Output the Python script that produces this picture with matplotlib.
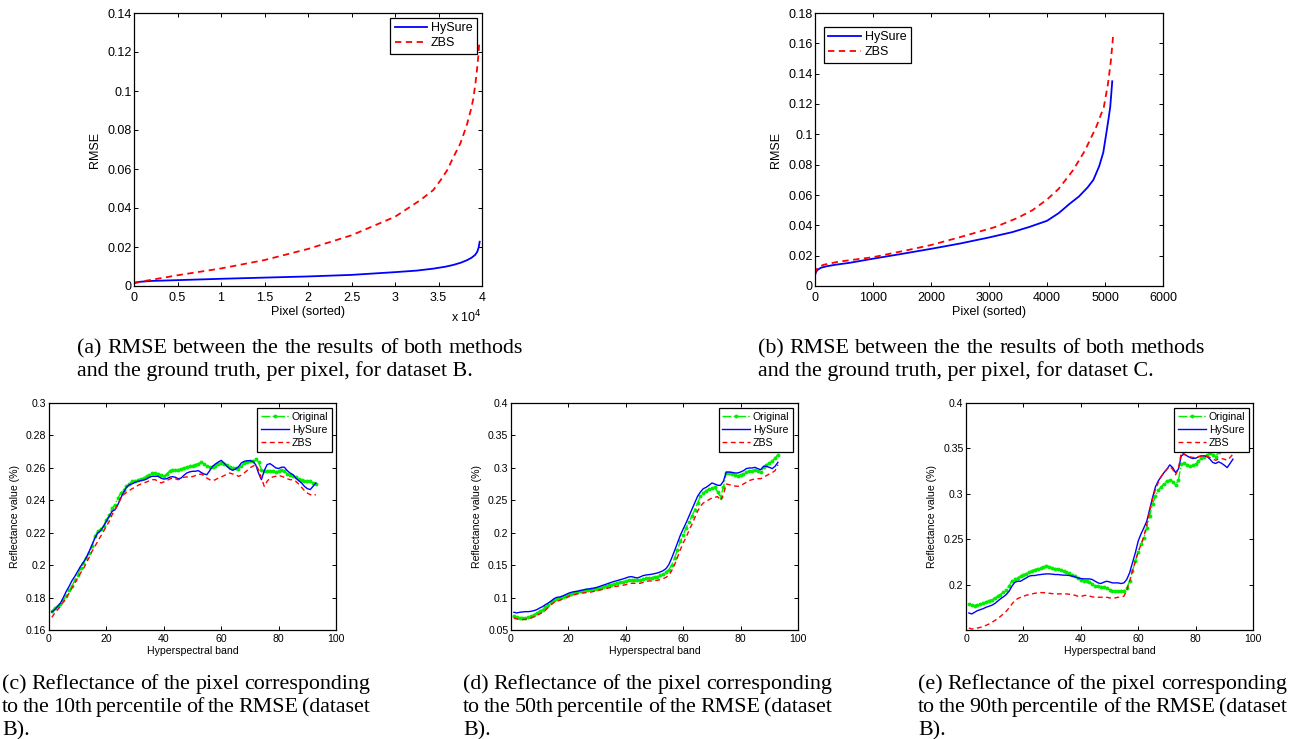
import numpy as np
import matplotlib
matplotlib.use('Agg')
import matplotlib.pyplot as plt
from matplotlib.ticker import FuncFormatter, FixedLocator

# ---------------- data ----------------
# (a) dataset B, sorted per-pixel RMSE
a_hysure_x = [0, 500, 2000, 5000, 10000, 15000, 20000, 25000, 30000, 32500, 34400, 35800,
              36700, 37600, 38300, 38800, 39200, 39450, 39620, 39730]
a_hysure_y = [0.0016, 0.0021, 0.0026, 0.0030, 0.0037, 0.0043, 0.0049, 0.0057, 0.0071, 0.0079,
              0.0089, 0.0099, 0.0108, 0.0120, 0.0133, 0.0145, 0.0159, 0.0175, 0.0198, 0.0227]
a_zbs_x = [0, 1000, 5000, 10000, 15000, 20000, 25000, 30000, 32900, 34400, 35200, 36000, 36700,
           37500, 37900, 38300, 38700, 39000, 39250, 39450, 39600, 39700]
a_zbs_y = [0.0014, 0.0024, 0.0055, 0.0090, 0.0133, 0.0190, 0.0260, 0.0355, 0.0440, 0.0492,
           0.0540, 0.0594, 0.0660, 0.0730, 0.0780, 0.0833, 0.0900, 0.0960, 0.1040, 0.1120,
           0.1190, 0.1260]

# (b) dataset C, sorted per-pixel RMSE
b_hysure_x = [0, 15, 40, 100, 200, 350, 600, 1000, 1500, 2000, 2500, 3000, 3400, 3700, 4000,
              4200, 4400, 4550, 4700, 4800, 4900, 4970, 5020, 5060, 5090, 5115, 5125]
b_hysure_y = [0.0070, 0.0090, 0.0105, 0.0120, 0.0130, 0.0140, 0.0153, 0.0180, 0.0212, 0.0245,
              0.0280, 0.0320, 0.0355, 0.0390, 0.0430, 0.0480, 0.0545, 0.0590, 0.0650, 0.0700,
              0.0790, 0.0880, 0.1000, 0.1100, 0.1180, 0.1300, 0.1350]
b_zbs_x = [0, 20, 60, 150, 400, 700, 1000, 1600, 2000, 2500, 3100, 3500, 3750, 4000, 4200,
           4450, 4650, 4850, 4980, 5050, 5100, 5140]
b_zbs_y = [0.0080, 0.0105, 0.0125, 0.0140, 0.0160, 0.0175, 0.0190, 0.0237, 0.0270, 0.0322,
           0.0388, 0.0450, 0.0500, 0.0570, 0.0640, 0.0764, 0.0890, 0.1050, 0.1180, 0.1330,
           0.1480, 0.1650]

bands = list(range(1, 94))

# (c) 10th percentile pixel
c_orig = [0.1715, 0.1736, 0.1746, 0.1760, 0.1787, 0.1808, 0.1849, 0.1869, 0.1910, 0.1940,
          0.1980, 0.2013, 0.2044, 0.2075, 0.2116, 0.2178, 0.2209, 0.2220, 0.2240, 0.2280,
          0.2310, 0.2350, 0.2373, 0.2414, 0.2445, 0.2465, 0.2486, 0.2500, 0.2517, 0.2521,
          0.2527, 0.2531, 0.2537, 0.2548, 0.2558, 0.2568, 0.2568, 0.2562, 0.2554, 0.2548,
          0.2562, 0.2579, 0.2585, 0.2589, 0.2589, 0.2593, 0.2600, 0.2604, 0.2610, 0.2614,
          0.2620, 0.2626, 0.2634, 0.2626, 0.2610, 0.2604, 0.2606, 0.2614, 0.2626, 0.2630,
          0.2624, 0.2616, 0.2606, 0.2600, 0.2600, 0.2596, 0.2610, 0.2630, 0.2636, 0.2640,
          0.2644, 0.2657, 0.2636, 0.2589, 0.2579, 0.2583, 0.2583, 0.2579, 0.2572, 0.2579,
          0.2589, 0.2583, 0.2562, 0.2554, 0.2552, 0.2542, 0.2531, 0.2523, 0.2521, 0.2521,
          0.2517, 0.2507, 0.2502]
c_hysure = [0.1711, 0.1725, 0.1746, 0.1766, 0.1801, 0.1838, 0.1869, 0.1904, 0.1931, 0.1962,
            0.1993, 0.2017, 0.2048, 0.2085, 0.2126, 0.2167, 0.2198, 0.2213, 0.2240, 0.2270,
            0.2301, 0.2332, 0.2342, 0.2373, 0.2414, 0.2449, 0.2480, 0.2496, 0.2502, 0.2511,
            0.2517, 0.2521, 0.2525, 0.2531, 0.2542, 0.2548, 0.2548, 0.2548, 0.2537, 0.2531,
            0.2533, 0.2542, 0.2546, 0.2542, 0.2533, 0.2537, 0.2554, 0.2568, 0.2575, 0.2579,
            0.2579, 0.2583, 0.2572, 0.2562, 0.2558, 0.2583, 0.2610, 0.2624, 0.2636, 0.2646,
            0.2630, 0.2610, 0.2593, 0.2585, 0.2593, 0.2606, 0.2630, 0.2640, 0.2644, 0.2644,
            0.2640, 0.2620, 0.2568, 0.2527, 0.2583, 0.2620, 0.2626, 0.2614, 0.2600, 0.2596,
            0.2604, 0.2604, 0.2583, 0.2568, 0.2558, 0.2537, 0.2521, 0.2507, 0.2486, 0.2472,
            0.2466, 0.2486, 0.2507]
c_zbs = [0.1678, 0.1705, 0.1725, 0.1746, 0.1773, 0.1797, 0.1828, 0.1859, 0.1890, 0.1921,
         0.1952, 0.1978, 0.2013, 0.2048, 0.2085, 0.2116, 0.2147, 0.2178, 0.2209, 0.2240,
         0.2270, 0.2311, 0.2342, 0.2377, 0.2408, 0.2435, 0.2449, 0.2460, 0.2472, 0.2480,
         0.2492, 0.2500, 0.2507, 0.2513, 0.2521, 0.2527, 0.2527, 0.2517, 0.2507, 0.2513,
         0.2521, 0.2531, 0.2537, 0.2533, 0.2527, 0.2533, 0.2542, 0.2544, 0.2542, 0.2546,
         0.2552, 0.2558, 0.2562, 0.2552, 0.2537, 0.2527, 0.2521, 0.2527, 0.2537, 0.2544,
         0.2552, 0.2562, 0.2568, 0.2562, 0.2558, 0.2548, 0.2554, 0.2568, 0.2583, 0.2600,
         0.2610, 0.2620, 0.2589, 0.2537, 0.2486, 0.2517, 0.2537, 0.2544, 0.2548, 0.2554,
         0.2548, 0.2542, 0.2533, 0.2527, 0.2527, 0.2517, 0.2500, 0.2480, 0.2460, 0.2445,
         0.2435, 0.2429, 0.2435]

# (d) 50th percentile pixel
d_orig = [0.0711, 0.0696, 0.0685, 0.0685, 0.0685, 0.0696, 0.0711, 0.0737, 0.0763, 0.0788,
          0.0814, 0.0850, 0.0891, 0.0927, 0.0958, 0.0978, 0.0994, 0.1009, 0.1030, 0.1045,
          0.1055, 0.1071, 0.1081, 0.1097, 0.1102, 0.1112, 0.1117, 0.1133, 0.1138, 0.1138,
          0.1148, 0.1163, 0.1179, 0.1189, 0.1199, 0.1215, 0.1225, 0.1235, 0.1241, 0.1256,
          0.1271, 0.1276, 0.1276, 0.1271, 0.1266, 0.1282, 0.1297, 0.1307, 0.1307, 0.1318,
          0.1323, 0.1343, 0.1364, 0.1395, 0.1431, 0.1508, 0.1610, 0.1739, 0.1867, 0.1970,
          0.2073, 0.2165, 0.2253, 0.2356, 0.2458, 0.2561, 0.2612, 0.2649, 0.2674, 0.2690,
          0.2700, 0.2628, 0.2551, 0.2700, 0.2921, 0.2921, 0.2905, 0.2885, 0.2880, 0.2895,
          0.2905, 0.2936, 0.2957, 0.2957, 0.2972, 0.2957, 0.2936, 0.3008, 0.3049, 0.3075,
          0.3101, 0.3152, 0.3204]
d_hysure = [0.0773, 0.0763, 0.0773, 0.0778, 0.0783, 0.0783, 0.0788, 0.0799, 0.0814, 0.0840,
            0.0860, 0.0891, 0.0917, 0.0948, 0.0984, 0.1004, 0.1009, 0.1025, 0.1045, 0.1066,
            0.1081, 0.1091, 0.1097, 0.1107, 0.1117, 0.1127, 0.1133, 0.1138, 0.1148, 0.1158,
            0.1174, 0.1189, 0.1204, 0.1220, 0.1235, 0.1250, 0.1261, 0.1276, 0.1287, 0.1302,
            0.1318, 0.1323, 0.1312, 0.1302, 0.1318, 0.1338, 0.1348, 0.1354, 0.1359, 0.1369,
            0.1379, 0.1395, 0.1415, 0.1446, 0.1508, 0.1610, 0.1723, 0.1842, 0.1960, 0.2058,
            0.2150, 0.2253, 0.2356, 0.2458, 0.2561, 0.2628, 0.2679, 0.2700, 0.2731, 0.2767,
            0.2751, 0.2731, 0.2731, 0.2792, 0.2936, 0.2936, 0.2931, 0.2921, 0.2921, 0.2936,
            0.2957, 0.2988, 0.2998, 0.2998, 0.3008, 0.2988, 0.2972, 0.3024, 0.3024, 0.3008,
            0.2988, 0.3024, 0.3085]
d_zbs = [0.0685, 0.0670, 0.0660, 0.0660, 0.0665, 0.0670, 0.0685, 0.0706, 0.0727, 0.0747,
         0.0773, 0.0804, 0.0850, 0.0891, 0.0927, 0.0942, 0.0958, 0.0978, 0.0994, 0.1014,
         0.1030, 0.1045, 0.1055, 0.1066, 0.1071, 0.1076, 0.1081, 0.1086, 0.1097, 0.1107,
         0.1117, 0.1127, 0.1138, 0.1148, 0.1158, 0.1169, 0.1174, 0.1184, 0.1189, 0.1199,
         0.1210, 0.1220, 0.1220, 0.1215, 0.1220, 0.1235, 0.1250, 0.1256, 0.1256, 0.1261,
         0.1266, 0.1276, 0.1292, 0.1312, 0.1343, 0.1415, 0.1508, 0.1620, 0.1739, 0.1842,
         0.1929, 0.2032, 0.2124, 0.2227, 0.2330, 0.2407, 0.2458, 0.2484, 0.2510, 0.2535,
         0.2546, 0.2556, 0.2494, 0.2587, 0.2751, 0.2741, 0.2731, 0.2720, 0.2715, 0.2731,
         0.2751, 0.2777, 0.2803, 0.2818, 0.2828, 0.2833, 0.2833, 0.2854, 0.2880, 0.2905,
         0.2926, 0.2957, 0.3049]

# (e) 90th percentile pixel (Original visible up to band 88)
e_orig_bands = list(range(1, 89))
e_orig = [0.1790, 0.1783, 0.1772, 0.1783, 0.1790, 0.1801, 0.1812, 0.1827, 0.1838, 0.1857,
          0.1875, 0.1893, 0.1919, 0.1949, 0.1985, 0.2048, 0.2070, 0.2077, 0.2096, 0.2114,
          0.2125, 0.2143, 0.2158, 0.2169, 0.2180, 0.2188, 0.2195, 0.2213, 0.2199, 0.2188,
          0.2180, 0.2176, 0.2169, 0.2151, 0.2143, 0.2132, 0.2114, 0.2096, 0.2077, 0.2059,
          0.2048, 0.2040, 0.2029, 0.2015, 0.1993, 0.1985, 0.1978, 0.1974, 0.1967, 0.1949,
          0.1938, 0.1930, 0.1930, 0.1930, 0.1938, 0.1967, 0.2040, 0.2151, 0.2261, 0.2364,
          0.2445, 0.2518, 0.2629, 0.2757, 0.2886, 0.2978, 0.3040, 0.3077, 0.3114, 0.3143,
          0.3151, 0.3136, 0.3099, 0.3151, 0.3327, 0.3342, 0.3320, 0.3309, 0.3316, 0.3327,
          0.3357, 0.3393, 0.3408, 0.3423, 0.3449, 0.3431, 0.3408, 0.3463]
e_hysure = [0.1691, 0.1680, 0.1699, 0.1717, 0.1728, 0.1739, 0.1754, 0.1765, 0.1776, 0.1794,
            0.1820, 0.1846, 0.1868, 0.1893, 0.1930, 0.1985, 0.2029, 0.2040, 0.2040, 0.2059,
            0.2077, 0.2096, 0.2103, 0.2103, 0.2110, 0.2114, 0.2118, 0.2121, 0.2121, 0.2118,
            0.2114, 0.2114, 0.2110, 0.2107, 0.2107, 0.2103, 0.2096, 0.2088, 0.2077, 0.2070,
            0.2066, 0.2066, 0.2066, 0.2059, 0.2040, 0.2022, 0.2015, 0.2029, 0.2040, 0.2033,
            0.2022, 0.2022, 0.2022, 0.2015, 0.2022, 0.2059, 0.2132, 0.2243, 0.2353, 0.2482,
            0.2562, 0.2629, 0.2702, 0.2831, 0.2960, 0.3077, 0.3143, 0.3191, 0.3235, 0.3272,
            0.3320, 0.3290, 0.3235, 0.3272, 0.3419, 0.3438, 0.3419, 0.3401, 0.3390, 0.3393,
            0.3408, 0.3419, 0.3419, 0.3412, 0.3382, 0.3346, 0.3335, 0.3353, 0.3338, 0.3316,
            0.3290, 0.3335, 0.3382]
e_zbs = [0.1526, 0.1515, 0.1518, 0.1526, 0.1533, 0.1544, 0.1555, 0.1570, 0.1588, 0.1607,
         0.1629, 0.1654, 0.1680, 0.1710, 0.1746, 0.1790, 0.1827, 0.1849, 0.1864, 0.1875,
         0.1886, 0.1893, 0.1901, 0.1908, 0.1912, 0.1915, 0.1915, 0.1912, 0.1908, 0.1904,
         0.1901, 0.1901, 0.1901, 0.1901, 0.1901, 0.1897, 0.1893, 0.1886, 0.1875, 0.1871,
         0.1882, 0.1886, 0.1879, 0.1868, 0.1864, 0.1864, 0.1864, 0.1864, 0.1864, 0.1857,
         0.1853, 0.1857, 0.1864, 0.1868, 0.1875, 0.1938, 0.2040, 0.2151, 0.2261, 0.2364,
         0.2445, 0.2537, 0.2665, 0.2813, 0.2941, 0.3051, 0.3125, 0.3191, 0.3235, 0.3272,
         0.3301, 0.3272, 0.3210, 0.3272, 0.3456, 0.3438, 0.3419, 0.3408, 0.3401, 0.3401,
         0.3412, 0.3415, 0.3419, 0.3412, 0.3401, 0.3382, 0.3371, 0.3382, 0.3390, 0.3382,
         0.3371, 0.3401, 0.3438]

captions = {
    'a': ["(a) RMSE between the the results of both methods",
          "and the ground truth, per pixel, for dataset B."],
    'b': ["(b) RMSE between the the results of both methods",
          "and the ground truth, per pixel, for dataset C."],
    'c': ["(c) Reflectance of the pixel corresponding",
          "to the 10th percentile of the RMSE (dataset", "B)."],
    'd': ["(d) Reflectance of the pixel corresponding",
          "to the 50th percentile of the RMSE (dataset", "B)."],
    'e': ["(e) Reflectance of the pixel corresponding",
          "to the 90th percentile of the RMSE (dataset", "B)."],
}

# ---------------- figure ----------------
W, H = 1291, 739
SANS = ['Liberation Sans', 'DejaVu Sans']
SERIF = ['Liberation Serif', 'DejaVu Serif']
plt.rcParams['font.family'] = SANS

fig = plt.figure(figsize=(W / 100, H / 100), dpi=100)


def rect(x0, y0, x1, y1):
    return [x0 / W, 1 - y1 / H, (x1 - x0) / W, (y1 - y0) / H]


GREEN, BLUE, RED = '#00ee00', '#0000ff', '#ff0000'
fmt = FuncFormatter(lambda v, p: ('%g' % round(v, 6)))


def style_axes(ax, fs, xpad):
    for s in ax.spines.values():
        s.set_linewidth(0.9)
        s.set_color('black')
    ax.tick_params(direction='in', top=True, right=True, length=3.2, width=0.7,
                   labelsize=fs, colors='black')
    ax.tick_params(axis='y', pad=1.8)
    ax.tick_params(axis='x', pad=xpad)
    ax.yaxis.set_major_formatter(fmt)


# --- top plots ---
axA = fig.add_axes(rect(134, 13, 482, 286))
axA.plot(a_hysure_x, a_hysure_y, color=BLUE, lw=1.3, label='HySure')
axA.plot(a_zbs_x, a_zbs_y, color=RED, lw=1.3, ls=(0, (3.5, 2.5)), label='ZBS')
axA.set_xlim(0, 40000)
axA.set_ylim(0, 0.14)
axA.xaxis.set_major_locator(FixedLocator(np.arange(0, 40001, 5000)))
axA.yaxis.set_major_locator(FixedLocator(np.arange(0, 0.1401, 0.02)))
axA.xaxis.set_major_formatter(FuncFormatter(lambda v, p: '%g' % (v / 1e4)))
style_axes(axA, 9, 4.5)
axA.text(1.0, -0.115, r'x 10$^{4}$', transform=axA.transAxes, ha='right', va='center',
         fontsize=9)

axB = fig.add_axes(rect(815, 13, 1163, 286))
axB.plot(b_hysure_x, b_hysure_y, color=BLUE, lw=1.3, label='HySure')
axB.plot(b_zbs_x, b_zbs_y, color=RED, lw=1.3, ls=(0, (3.5, 2.5)), label='ZBS')
axB.set_xlim(0, 6000)
axB.set_ylim(0, 0.18)
axB.xaxis.set_major_locator(FixedLocator(np.arange(0, 6001, 1000)))
axB.yaxis.set_major_locator(FixedLocator(np.arange(0, 0.1801, 0.02)))
axB.xaxis.set_major_formatter(FuncFormatter(lambda v, p: '%d' % v))
style_axes(axB, 9, 4.5)

for ax in (axA, axB):
    ax.set_xlabel('Pixel (sorted)', fontsize=9, labelpad=1.5)
    ax.set_ylabel('RMSE', fontsize=9)
    ax.yaxis.set_label_coords(-39 / 348, 0.5)
    ax.yaxis.label.set_va('center')

legkw_top = dict(fontsize=9, handlelength=2.6, handletextpad=0.3, borderpad=0.35,
                 labelspacing=0.25, fancybox=False, framealpha=1, edgecolor='black',
                 borderaxespad=0)
lg = axA.legend(loc='upper right', bbox_to_anchor=(0.9856, 0.982), **legkw_top)
lg.get_frame().set_linewidth(0.9)
lg = axB.legend(loc='upper left', bbox_to_anchor=(0.026, 0.949), **legkw_top)
lg.get_frame().set_linewidth(0.9)

# --- bottom plots ---
bottom_specs = [
    (49, 336, c_orig, bands, c_hysure, c_zbs, (0.16, 0.30), np.arange(0.16, 0.3001, 0.02), 0.986),
    (511, 798, d_orig, bands, d_hysure, d_zbs, (0.05, 0.40), np.arange(0.05, 0.4001, 0.05), 0.9826),
    (966, 1253, e_orig, e_orig_bands, e_hysure, e_zbs, (0.1504, 0.40), np.arange(0.2, 0.4001, 0.05), 0.986),
]
for x0, x1, orig, ob, hy, zb, ylim, yt, lx in bottom_specs:
    ax = fig.add_axes(rect(x0, 403, x1, 630))
    ax.plot(ob, orig, color=GREEN, lw=1.0, ls='-.', marker='o', ms=2.8, mew=0,
            label='Original')
    ax.plot(bands, hy, color=BLUE, lw=1.0, label='HySure')
    ax.plot(bands, zb, color=RED, lw=1.0, ls=(0, (3.5, 2.5)), label='ZBS')
    ax.set_xlim(0, 100)
    ax.set_ylim(*ylim)
    ax.xaxis.set_major_locator(FixedLocator(np.arange(0, 101, 20)))
    ax.yaxis.set_major_locator(FixedLocator(yt))
    ax.xaxis.set_major_formatter(FuncFormatter(lambda v, p: '%d' % v))
    style_axes(ax, 7.6, 2.9)
    ax.set_xlabel('Hyperspectral band', fontsize=7.6, labelpad=1.5)
    ax.set_ylabel('Reflectance value (%)', fontsize=7.6)
    ax.yaxis.set_label_coords(-34 / 287, 0.5)
    ax.yaxis.label.set_va('center')
    lg = ax.legend(loc='upper right', bbox_to_anchor=(lx, 0.978), fontsize=7.6,
                   handlelength=2.6, handletextpad=0.3, borderpad=0.35, labelspacing=0.3,
                   numpoints=1, fancybox=False, framealpha=1, edgecolor='black',
                   borderaxespad=0)
    lg.get_frame().set_linewidth(0.9)

# --- captions (justified like the LaTeX source) ---
CAP_FS = 15.8
renderer = fig.canvas.get_renderer()


def caption(lines, x0, x1, baselines):
    n = len(lines)
    for i, (line, yb) in enumerate(zip(lines, baselines)):
        last = (i == n - 1)
        if last:
            fig.text(x0 / W, 1 - yb / H, line, ha='left', va='baseline',
                     fontsize=CAP_FS, family=SERIF)
            continue
        words = line.split(' ')
        texts = [fig.text(0, 1 - yb / H, w, ha='left', va='baseline', fontsize=CAP_FS,
                          family=SERIF) for w in words]
        widths = [t.get_window_extent(renderer).width for t in texts]
        gap = (x1 - x0 - sum(widths)) / (len(words) - 1)
        x = x0
        for t, wd in zip(texts, widths):
            t.set_x(x / W)
            x += wd + gap


caption(captions['a'], 77, 523, [353, 376])
caption(captions['b'], 758, 1205, [353, 376])
caption(captions['c'], 2, 370, [689, 712, 735])
caption(captions['d'], 463, 832, [689, 712, 735])
caption(captions['e'], 918, 1287, [689, 712, 735])

fig.savefig('out.png', dpi=100)
